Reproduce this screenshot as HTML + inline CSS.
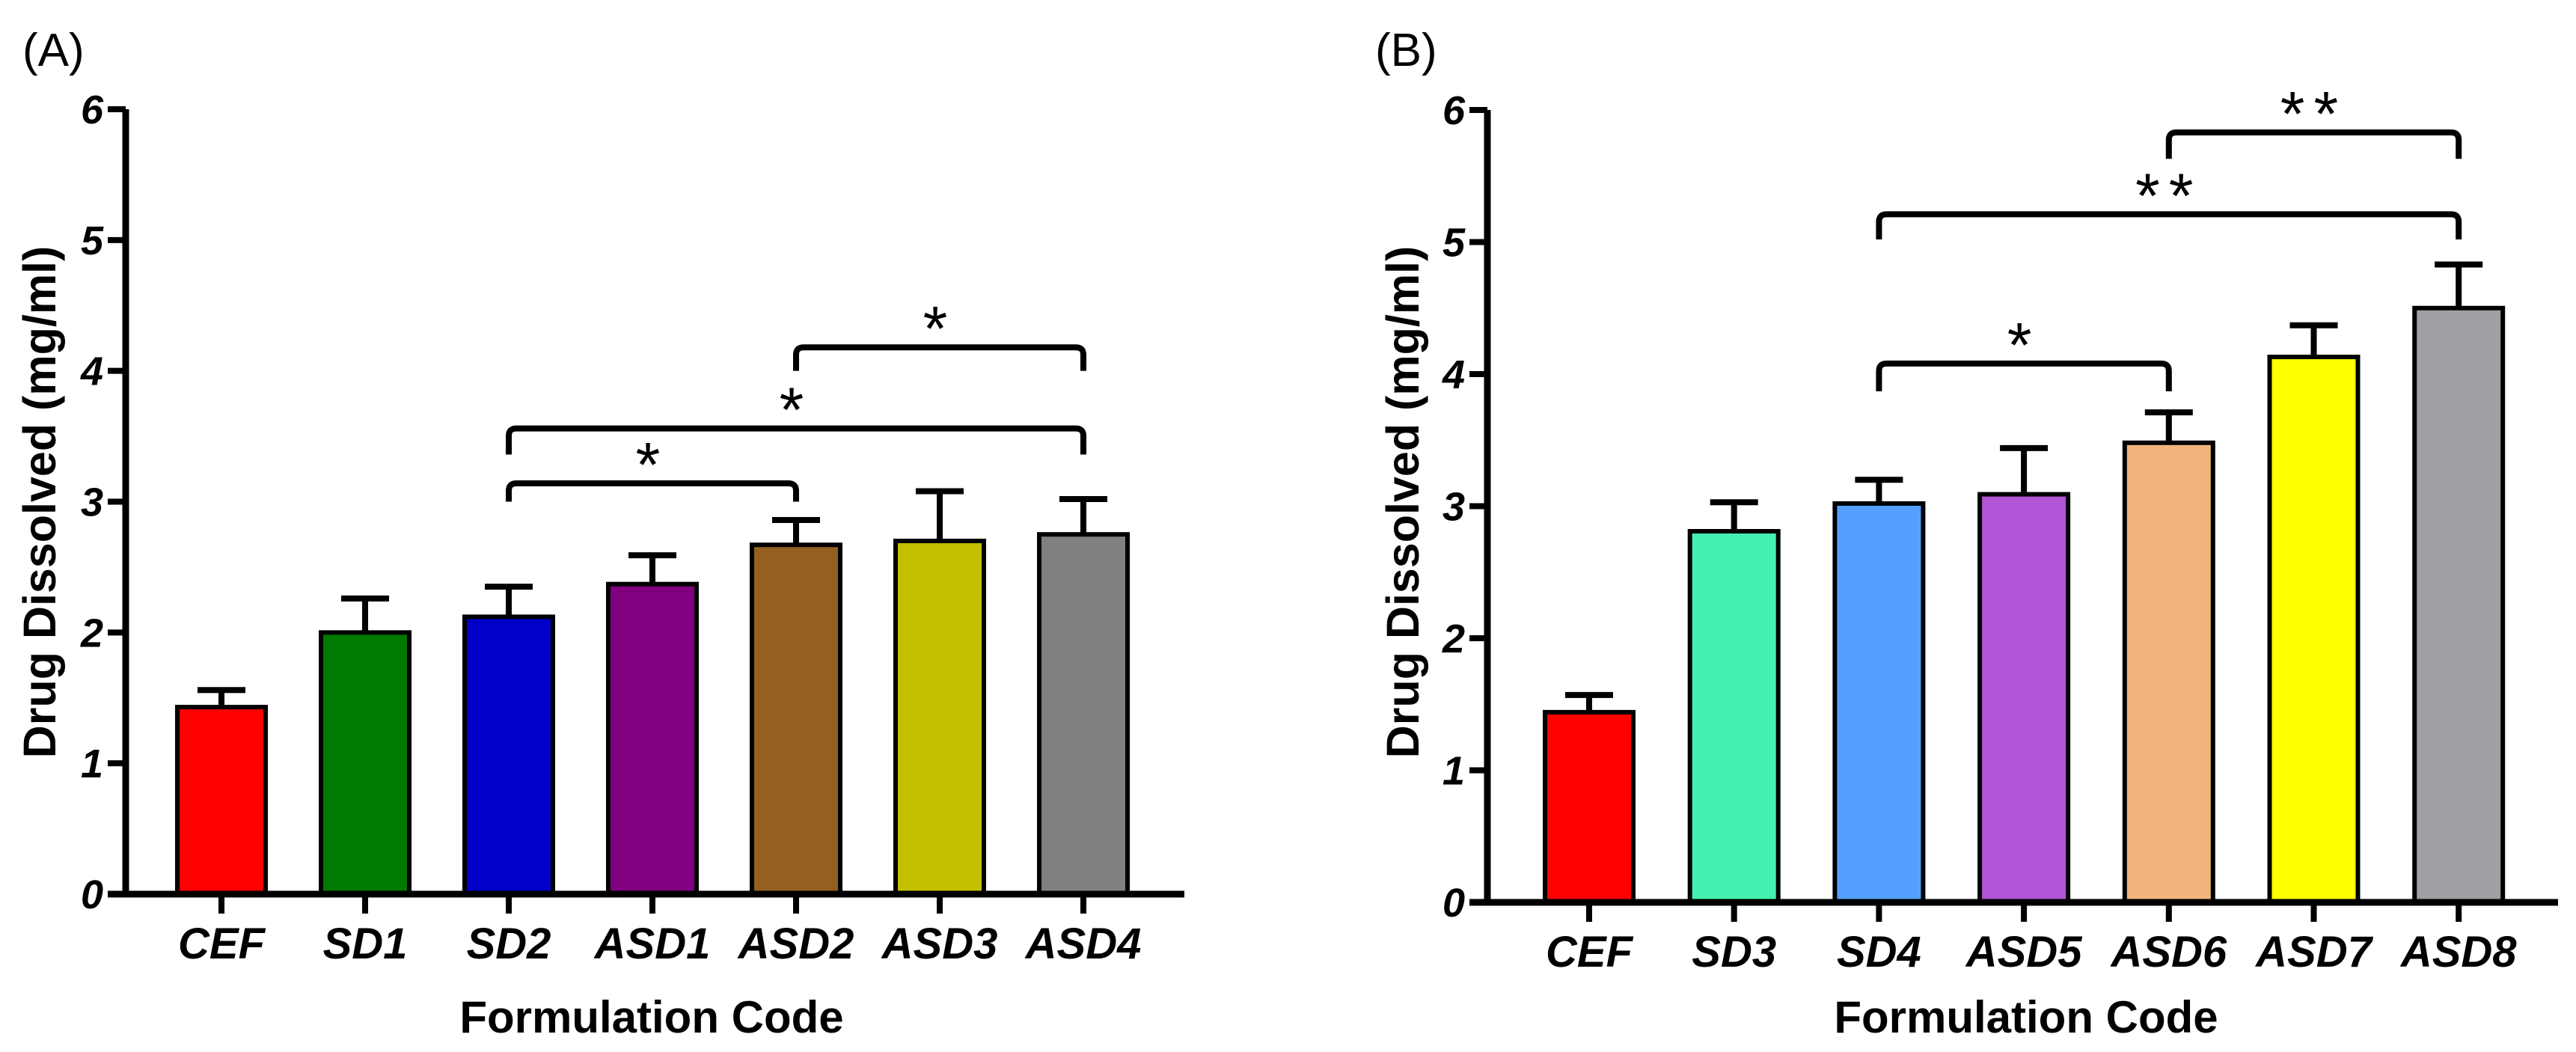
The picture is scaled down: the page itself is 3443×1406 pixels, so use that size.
<!DOCTYPE html>
<html><head><meta charset="utf-8"><style>
html,body{margin:0;padding:0;background:#fff;}
svg{display:block;font-family:"Liberation Sans",Arial,sans-serif;}
</style></head><body>
<svg id="fig" width="3443" height="1406" viewBox="0 0 3443 1406" xmlns="http://www.w3.org/2000/svg"></svg>
<script>
const catsA = ["CEF","SD1","SD2","ASD1","ASD2","ASD3","ASD4"];
const valsA = [1.43,2.0,2.12,2.37,2.67,2.70,2.75];
const errsA = [1.56,2.26,2.35,2.59,2.86,3.08,3.02];
const colorsA = ["#ff0000","#007a00","#0000c8","#800080","#946020","#c3c000","#808080"];
const sigA = [[2,4,3.14,3.0,"*"],[2,6,3.56,3.36,"*"],[4,6,4.18,4.0,"*"]];
const catsB = ["CEF","SD3","SD4","ASD5","ASD6","ASD7","ASD8"];
const valsB = [1.44,2.81,3.02,3.09,3.48,4.13,4.50];
const errsB = [1.57,3.03,3.20,3.44,3.71,4.37,4.83];
const colorsB = ["#ff0000","#45f0b0","#55a0ff","#b455d8","#f0b47c","#ffff00","#a0a0a4"];
const sigB = [[2,4,4.08,3.87,"*"],[2,6,5.21,5.02,"**"],[4,6,5.83,5.63,"**"]];
const yTicks = [0,1,2,3,4,5,6];

const NS="http://www.w3.org/2000/svg";
const svg=document.getElementById('fig');
function mk(tag,attrs,parent,text){const e=document.createElementNS(NS,tag);for(const k in attrs)e.setAttribute(k,attrs[k]);if(text!==undefined)e.textContent=text;(parent||svg).appendChild(e);return e;}

function panel(p){
  const g=mk('g',{});
  
  
  const y=v=>p.y0-(p.y0-p.y6)*v/6;
  const x=i=>p.x0+p.sp*i;
  const lbl=mk('text',{x:p.lx,y:88,'font-size':62,fill:'#000'},g,'('+p.id.toUpperCase()+')');
  
  
  p.cats.forEach((c,i)=>{
    const bw=118, cx=x(i);
    const eb=mk('path',{d:`M${cx} ${y(p.vals[i])} V${y(p.errs[i])} M${cx-32} ${y(p.errs[i])} H${cx+32}`,stroke:'#000','stroke-width':8,fill:'none'},g);
    
    
    const r=mk('rect',{x:cx-bw/2,y:y(p.vals[i]),width:bw,height:y(0)-y(p.vals[i]),fill:p.colors[i],stroke:'#000','stroke-width':6},g);
    
    
    const t=mk('line',{x1:cx,x2:cx,y1:p.y0,y2:p.y0+26,stroke:'#000','stroke-width':8},g);
    
    
    const tl=mk('text',{x:cx,y:p.y0+86,'font-size':58,'font-weight':'bold','font-style':'italic','text-anchor':'middle'},g,c);
    
    
  });
  const ax=mk('path',{d:`M${p.ax} ${p.y6} V${p.y0} M${p.ax-24} ${p.y0} H${p.xend}`,stroke:'#000','stroke-width':9,fill:'none'},g);
  
  
  yTicks.forEach(v=>{
    const tk=mk('line',{x1:p.ax-24,x2:p.ax,y1:y(v),y2:y(v),stroke:'#000','stroke-width':8},g);
    
    
    const tl=mk('text',{x:p.ax-30,y:y(v)+19,'font-size':54,'font-weight':'bold','font-style':'italic','text-anchor':'end'},g,String(v));
    
    
  });
  p.sig.forEach(s=>{
    const a=x(s[0]), b=x(s[1]), ly=y(s[2]), lg=y(s[3]);
    const br=mk('path',{d:`M${a} ${lg} V${ly+10} Q${a} ${ly} ${a+10} ${ly} H${b-10} Q${b} ${ly} ${b} ${ly+10} V${lg}`,stroke:'#000','stroke-width':8,fill:'none'},g);
    
    
    const st=mk('text',{x:(a+b)/2,y:ly+4,'font-size':84,'text-anchor':'middle','letter-spacing':12},g,s[4]);
    
    
  });
  const xt=mk('text',{x:p.xtx,y:1380,'font-size':60,'font-weight':'bold','text-anchor':'middle'},g,'Formulation Code');
  
  
  const yt=mk('text',{x:0,y:0,'font-size':61,'font-weight':'bold','text-anchor':'middle',transform:`translate(${p.ytx},671) rotate(-90)`},g,'Drug Dissolved (mg/ml)');
  
  
}
panel({id:'a',cats:catsA,vals:valsA,errs:errsA,colors:colorsA,sig:sigA,x0:296,sp:192,y0:1195,y6:146,ax:168,xend:1583,lx:30,xtx:871,ytx:74});
panel({id:'b',cats:catsB,vals:valsB,errs:errsB,colors:colorsB,sig:sigB,x0:2124,sp:193.7,y0:1206,y6:147,ax:1988,xend:3419,lx:1838,xtx:2708,ytx:1896});
</script>
</body></html>
